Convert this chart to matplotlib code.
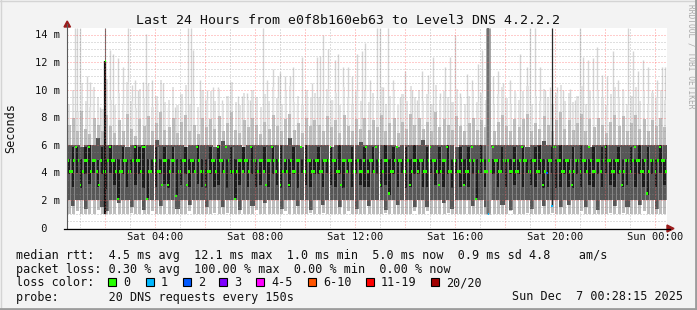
import numpy as np
import matplotlib.pyplot as plt
from matplotlib import transforms
from matplotlib.patches import Rectangle, Polygon
from matplotlib.lines import Line2D

# time axis: hours since Sat 00:00, window Sat 00:28:15 -> Sun 00:28:15
start_h = 0.4708
band_step_h = 1 / 6      # smoke columns, 10 min
median_step_h = 1 / 12   # median samples, 5 min

# median rtt (ms), 5 min samples
median_ms = [
    4.9, 4.1, 4.1, 4.9, 5.9, 4.9, 3.1, 4.1, 4.9, 4.9, 5.9, 4.1, 4.9, 4.9, 4.1, 3.1, 4.9, 4.1, 4.1, 4.9, 5.9, 4.9, 4.9, 4.1,
    2.1, 4.1, 4.1, 4.9, 4.9, 4.1, 4.1, 4.9, 5.9, 4.9, 4.9, 4.1, 5.9, 5.9, 2.1, 4.1, 4.1, 4.9, 4.9, 4.1, 4.1, 3.1, 4.9, 4.9,
    3.1, 4.1, 4.9, 4.9, 2.3, 4.1, 4.1, 4.9, 4.9, 3.1, 4.1, 4.9, 4.9, 4.1, 5.9, 4.9, 4.1, 4.1, 3.1, 4.1, 4.1, 4.9, 4.9, 4.1,
    5.9, 4.9, 4.9, 4.1, 5.9, 4.9, 4.1, 4.1, 2.1, 4.1, 4.9, 4.9, 4.1, 4.9, 4.9, 4.1, 5.9, 4.9, 4.9, 4.1, 4.9, 4.9, 4.1, 3.1,
    4.9, 4.9, 5.9, 4.9, 4.1, 4.9, 3.1, 4.1, 4.9, 4.1, 3.1, 4.9, 4.1, 4.1, 4.9, 4.9, 5.9, 4.1, 4.1, 4.9, 4.9, 4.1, 4.1, 4.9,
    4.9, 4.1, 4.1, 4.9, 4.9, 4.9, 5.9, 4.9, 4.9, 4.1, 4.1, 3.1, 4.9, 4.9, 4.1, 4.9, 4.9, 4.1, 4.1, 4.9, 4.1, 4.1, 4.9, 5.9,
    4.1, 4.9, 4.9, 4.1, 5.9, 4.9, 3.1, 4.1, 4.9, 4.9, 2.5, 4.1, 4.1, 4.9, 5.9, 4.9, 4.9, 4.1, 4.1, 4.9, 3.1, 4.1, 4.9, 4.9,
    4.1, 4.9, 4.9, 4.1, 4.1, 4.9, 5.9, 4.9, 4.9, 4.1, 3.1, 4.1, 4.9, 4.9, 5.9, 4.1, 4.1, 4.9, 4.9, 4.1, 4.1, 4.9, 3.1, 4.1,
    4.1, 4.9, 5.9, 4.9, 2.1, 4.1, 4.9, 4.9, 4.1, 4.1, 4.9, 4.1, 5.9, 4.9, 4.9, 4.1, 4.1, 4.9, 4.9, 4.9, 4.1, 4.1, 4.9, 4.1,
    4.1, 4.9, 5.9, 4.9, 4.9, 4.1, 4.1, 4.9, 4.9, 4.1, 4.1, 4.9, 3.1, 4.1, 4.0, 4.9, 4.9, 5.9, 5.9, 4.9, 4.9, 4.1, 4.1, 4.9,
    4.9, 4.1, 3.1, 4.1, 4.9, 4.9, 4.1, 4.9, 4.9, 4.1, 5.9, 4.9, 4.1, 4.1, 4.9, 4.9, 4.1, 4.9, 5.9, 4.9, 4.9, 4.1, 4.1, 4.9,
    4.9, 4.1, 3.1, 4.1, 4.9, 4.9, 4.1, 4.9, 5.9, 4.9, 4.9, 4.1, 4.1, 4.9, 2.5, 4.1, 4.9, 4.9, 4.1, 4.9, 5.9, 4.9, 4.9, 4.1,
]
# lost pings for a few median samples (index -> loss count)
median_loss = {230: 2}

# smoke percentiles (ms), 10 min columns
lo_ms = [
    1.0, 1.0, 1.2, 1.0, 1.0, 1.0, 1.0, 1.3, 1.0, 1.0, 1.0, 1.0,
    1.0, 1.0, 1.0, 1.1, 1.0, 1.0, 1.0, 1.0, 1.2, 1.0, 1.0, 1.0,
    1.0, 1.0, 1.0, 1.0, 1.0, 1.2, 1.0, 1.0, 1.0, 1.0, 1.0, 1.1,
    1.0, 1.0, 1.1, 1.0, 1.0, 1.0, 1.0, 1.0, 1.0, 1.3, 1.0, 1.0,
    1.0, 1.0, 1.0, 1.0, 1.2, 1.0, 1.0, 1.0, 1.0, 1.0, 1.1, 1.0,
    1.0, 1.1, 1.0, 1.0, 1.0, 1.0, 1.0, 1.2, 1.0, 1.0, 1.0, 1.0,
    1.0, 1.0, 1.0, 1.0, 1.1, 1.0, 1.0, 1.0, 1.0, 1.0, 1.0, 1.2,
    1.0, 1.0, 1.2, 1.0, 1.0, 1.0, 1.0, 1.1, 1.0, 1.0, 1.0, 1.0,
    1.0, 1.0, 1.0, 1.0, 1.0, 1.1, 1.0, 1.0, 1.0, 1.0, 1.2, 1.0,
    1.0, 1.0, 1.1, 1.0, 1.0, 1.0, 1.0, 1.0, 1.1, 1.0, 1.0, 1.0,
    1.0, 1.0, 1.0, 1.2, 1.0, 1.0, 1.0, 1.0, 1.0, 1.0, 1.1, 1.0,
    1.0, 1.1, 1.0, 1.0, 1.0, 1.0, 1.2, 1.0, 1.0, 1.0, 1.0, 1.0,
]
p10_ms = [
    2.0, 1.6, 2.0, 2.0, 1.4, 2.0, 2.0, 2.0, 1.5, 1.2, 2.0, 2.0,
    1.8, 2.0, 2.0, 1.5, 2.0, 2.0, 1.3, 2.0, 2.0, 2.0, 1.6, 2.0,
    2.0, 2.0, 1.4, 2.0, 2.0, 1.7, 2.0, 2.0, 2.0, 1.5, 2.0, 2.0,
    2.0, 1.5, 2.0, 2.0, 2.0, 1.3, 2.0, 2.0, 1.6, 2.0, 2.0, 1.8,
    2.0, 2.0, 2.0, 1.4, 2.0, 2.0, 2.0, 1.6, 2.0, 2.0, 1.3, 2.0,
    2.0, 1.7, 2.0, 2.0, 2.0, 1.5, 2.0, 2.0, 2.0, 1.4, 2.0, 2.0,
    1.6, 2.0, 2.0, 2.0, 1.3, 2.0, 2.0, 1.7, 2.0, 2.0, 2.0, 1.5,
    2.0, 2.0, 1.5, 2.0, 2.0, 2.0, 1.8, 2.0, 1.4, 2.0, 2.0, 2.0,
    2.0, 1.6, 2.0, 2.0, 1.5, 2.0, 2.0, 2.0, 1.7, 2.0, 1.3, 2.0,
    2.0, 2.0, 2.0, 1.4, 2.0, 2.0, 1.6, 2.0, 2.0, 2.0, 1.5, 2.0,
    1.7, 2.0, 2.0, 2.0, 1.5, 2.0, 2.0, 1.3, 2.0, 2.0, 2.0, 1.6,
    2.0, 2.0, 1.5, 2.0, 2.0, 1.7, 2.0, 2.0, 2.0, 1.4, 2.0, 2.0,
]
q25_ms = [
    3.9, 3.0, 4.0, 2.9, 3.9, 3.2, 4.0, 3.0, 3.9, 2.8, 4.0, 3.1,
    2.2, 3.9, 3.0, 4.0, 3.1, 3.9, 2.9, 2.2, 4.0, 3.0, 3.9, 3.2,
    2.9, 4.0, 2.4, 3.1, 3.9, 3.0, 4.0, 3.2, 3.0, 2.9, 3.9, 3.0,
    3.1, 4.0, 2.9, 3.9, 2.2, 3.1, 4.0, 3.0, 3.9, 3.0, 3.1, 4.0,
    3.0, 3.9, 3.1, 2.9, 4.0, 3.0, 3.9, 2.9, 4.0, 3.1, 3.0, 3.9,
    3.9, 3.0, 4.0, 3.1, 3.0, 3.9, 2.9, 4.0, 3.0, 3.9, 3.1, 3.0,
    3.0, 4.0, 3.9, 3.0, 3.1, 2.4, 3.9, 3.0, 4.0, 2.9, 3.0, 3.9,
    3.9, 3.0, 3.0, 4.0, 3.1, 3.9, 3.0, 3.9, 2.9, 4.0, 3.0, 3.1,
    3.0, 3.9, 2.2, 4.0, 3.0, 3.1, 3.9, 3.0, 4.0, 3.0, 3.9, 3.1,
    3.9, 3.0, 4.0, 3.1, 3.0, 3.9, 2.9, 3.0, 4.0, 2.9, 3.0, 3.9,
    3.0, 2.9, 3.9, 3.0, 4.0, 3.1, 3.0, 3.9, 3.0, 4.0, 3.1, 3.0,
    3.9, 3.0, 3.1, 4.0, 3.0, 3.9, 3.0, 2.4, 3.9, 3.0, 4.0, 3.1,
]
q75_ms = [
    5.0, 5.9, 5.9, 5.0, 5.9, 6.0, 5.0, 4.9, 5.9, 5.0, 6.0, 5.0,
    5.0, 5.9, 5.0, 5.0, 6.0, 5.9, 6.0, 5.0, 5.0, 5.9, 5.0, 5.9,
    5.0, 5.9, 5.0, 5.0, 5.9, 5.0, 5.0, 6.0, 5.0, 5.0, 5.9, 5.0,
    6.0, 5.0, 5.0, 5.9, 5.0, 5.0, 5.9, 5.0, 5.9, 5.0, 5.0, 5.9,
    5.0, 5.9, 5.0, 6.0, 5.0, 5.0, 5.9, 5.0, 5.0, 6.0, 5.0, 5.0,
    5.9, 5.0, 5.0, 5.9, 5.0, 6.0, 5.0, 5.0, 5.9, 5.0, 5.0, 5.9,
    5.0, 5.9, 5.0, 5.0, 6.0, 5.0, 5.9, 5.0, 5.0, 5.9, 5.0, 6.0,
    5.0, 5.0, 5.9, 5.0, 5.0, 5.9, 5.0, 6.0, 5.0, 5.0, 5.9, 5.0,
    5.9, 5.0, 5.0, 6.0, 5.0, 5.9, 5.0, 5.0, 5.9, 5.0, 5.0, 5.9,
    5.0, 5.9, 5.0, 5.0, 5.9, 6.0, 5.0, 5.0, 5.9, 5.0, 6.0, 5.0,
    5.0, 5.9, 5.0, 6.0, 5.0, 5.0, 5.9, 5.0, 5.9, 6.0, 5.0, 5.0,
    5.9, 5.0, 5.0, 5.9, 5.0, 6.0, 5.0, 5.9, 5.0, 5.0, 6.0, 5.0,
]
p90_ms = [
    6.0, 6.0, 6.0, 5.9, 6.0, 6.0, 6.0, 6.5, 6.0, 6.0, 6.0, 6.0,
    6.0, 6.0, 5.9, 6.0, 6.0, 6.0, 6.0, 6.0, 6.0, 6.4, 6.0, 6.0,
    6.0, 6.0, 6.0, 6.0, 5.9, 6.0, 6.0, 6.0, 6.0, 6.0, 6.0, 5.9,
    6.0, 6.3, 6.0, 6.0, 6.0, 6.0, 5.9, 6.0, 6.0, 6.0, 6.0, 6.0,
    6.0, 6.0, 6.0, 6.0, 6.0, 6.5, 6.0, 6.0, 5.9, 6.0, 6.0, 6.0,
    6.0, 6.0, 6.0, 5.9, 6.0, 6.0, 6.0, 6.0, 6.0, 6.0, 6.2, 6.0,
    6.0, 6.0, 6.0, 6.0, 6.0, 6.0, 6.0, 5.9, 6.0, 6.0, 6.0, 6.0,
    6.0, 6.4, 6.0, 6.0, 6.0, 6.0, 6.0, 6.0, 6.0, 5.9, 6.0, 6.0,
    6.0, 6.0, 6.0, 6.0, 6.0, 6.0, 6.0, 6.0, 6.0, 6.0, 6.0, 6.0,
    6.0, 6.0, 5.9, 6.0, 6.0, 6.0, 6.3, 6.0, 6.0, 6.0, 6.0, 6.0,
    6.0, 6.0, 6.0, 6.0, 6.0, 5.9, 6.0, 6.0, 6.0, 6.0, 6.0, 6.0,
    6.0, 6.0, 6.0, 6.0, 6.0, 6.0, 6.0, 6.0, 6.0, 6.0, 6.0, 6.0,
]
p95_ms = [
    7.5, 8.0, 7.0, 8.5, 7.2, 6.8, 8.0, 7.5, 7.0, 8.2, 7.4, 6.9,
    7.8, 7.0, 8.3, 7.2, 6.7, 7.9, 7.4, 8.1, 7.0, 7.6, 8.4, 7.1,
    7.3, 8.0, 6.9, 7.7, 8.2, 7.0, 7.5, 6.8, 8.0, 7.3, 7.9, 7.2,
    8.1, 7.0, 7.6, 8.4, 7.1, 6.9, 7.8, 7.3, 8.0, 7.5, 6.8, 7.7,
    7.2, 8.2, 7.4, 7.0, 7.9, 8.3, 7.1, 7.6, 6.9, 8.0, 7.4, 7.8,
    7.5, 7.0, 8.1, 7.3, 7.8, 6.9, 8.2, 7.4, 7.0, 7.9, 7.2, 8.0,
    7.1, 7.8, 7.3, 8.2, 7.0, 7.6, 8.0, 6.9, 7.7, 7.2, 8.3, 7.5,
    8.0, 7.2, 7.7, 7.0, 8.4, 7.3, 7.9, 7.5, 7.1, 8.1, 7.4, 7.0,
    7.6, 8.0, 7.1, 7.8, 7.3, 8.5, 7.0, 7.7, 8.2, 7.4, 7.0, 7.9,
    7.3, 7.9, 8.3, 7.0, 7.6, 7.2, 8.1, 7.5, 7.0, 7.8, 8.4, 7.2,
    7.8, 7.1, 7.6, 8.3, 7.0, 7.9, 7.3, 8.0, 7.5, 6.9, 7.7, 8.2,
    7.4, 8.1, 7.0, 7.6, 8.2, 7.2, 7.9, 7.0, 7.8, 7.4, 8.0, 7.3,
]
hi_ms = [
    9.0, 10.0, 8.5, 10.5, 9.2, 8.8, 10.2, 9.5, 8.6, 10.8, 9.3, 8.9,
    9.8, 9.0, 10.6, 9.2, 8.7, 10.1, 9.4, 10.3, 8.8, 9.6, 10.7, 9.1,
    9.3, 10.2, 8.9, 9.7, 10.4, 9.0, 9.5, 8.8, 10.0, 9.3, 9.9, 9.2,
    10.1, 9.0, 9.6, 10.6, 9.1, 8.9, 9.8, 9.3, 10.0, 9.5, 8.8, 9.7,
    9.2, 10.2, 9.4, 9.0, 9.9, 10.3, 9.1, 9.6, 8.9, 10.0, 9.4, 9.8,
    9.5, 9.0, 10.1, 9.3, 9.8, 8.9, 10.2, 9.4, 9.0, 9.9, 9.2, 10.0,
    9.1, 9.8, 9.3, 10.2, 9.0, 9.6, 10.0, 8.9, 9.7, 9.2, 10.3, 9.5,
    10.0, 9.2, 9.7, 9.0, 10.4, 9.3, 9.9, 9.5, 9.1, 10.1, 9.4, 9.0,
    9.6, 10.0, 9.1, 9.8, 9.3, 10.5, 9.0, 9.7, 10.2, 9.4, 9.0, 9.9,
    9.3, 9.9, 10.3, 9.0, 9.6, 9.2, 10.1, 9.5, 9.0, 9.8, 10.4, 9.2,
    9.8, 9.1, 9.6, 10.3, 9.0, 9.9, 9.3, 10.0, 9.5, 8.9, 9.7, 10.2,
    9.4, 10.1, 9.0, 9.6, 10.2, 9.2, 9.9, 9.0, 9.8, 9.4, 10.0, 9.3,
]

# single slow pings sticking out of the smoke (hour, ms)
spike_h = [
    0.52, 0.79, 0.88, 0.99, 1.26, 1.39, 1.52, 1.79, 2.19, 2.32, 2.52, 2.72, 2.92, 3.06, 3.19, 3.32,
    3.52, 3.62, 3.72, 3.86, 4.06, 4.32, 4.52, 4.79, 5.06, 5.32, 5.42, 5.52, 5.79, 6.06, 6.32, 6.52,
    6.66, 6.99, 7.32, 7.46, 7.66, 7.79, 8.32, 8.46, 8.72, 8.92, 8.99, 9.19, 9.39, 9.52, 9.66, 9.86,
    10.06, 10.26, 10.46, 10.59, 10.72, 10.92, 11.06, 11.19, 11.32, 11.52, 11.72, 11.86, 12.06, 12.26,
    12.39, 12.59, 12.88, 12.99, 13.12, 13.32, 13.52, 13.79, 13.99, 14.26, 14.46, 14.66, 14.92, 15.12,
    15.39, 15.59, 15.79, 15.99, 16.19, 16.46, 16.66, 16.92, 17.06, 17.52, 17.72, 17.92, 18.19, 18.39,
    18.59, 18.86, 18.99, 19.19, 19.39, 19.59, 19.79, 20.06, 20.32, 20.59, 20.79, 20.99, 21.12, 21.32,
    21.52, 21.66, 21.86, 22.06, 22.32, 22.52, 22.72, 22.92, 23.12, 23.32, 23.52, 23.72, 23.86, 24.06,
    24.26, 24.39,
]
spike_ms = [
    9.0, 14.5, 14.5, 14.5, 11.0, 10.6, 10.1, 8.8, 12.9, 12.6, 12.3, 11.7, 14.5, 10.4, 10.7, 10.0,
    10.6, 14.1, 10.5, 10.7, 9.3, 10.5, 8.8, 8.8, 9.3, 14.5, 14.5, 12.9, 10.7, 10.0, 10.2, 10.2,
    9.3, 9.3, 9.6, 9.6, 9.8, 9.3, 14.5, 10.7, 11.5, 11.0, 11.3, 11.0, 11.0, 11.7, 9.0, 12.4,
    9.5, 10.5, 12.4, 12.5, 14.0, 13.0, 9.3, 12.2, 12.6, 11.7, 11.7, 11.0, 12.6, 12.8,
    13.4, 10.7, 14.5, 14.5, 10.2, 14.5, 10.7, 9.5, 11.4, 10.0, 9.3, 11.4, 11.1, 12.4,
    9.8, 11.7, 12.4, 14.0, 9.8, 11.2, 10.7, 11.9, 12.9, 11.0, 11.4, 10.5, 10.7, 9.8,
    12.6, 11.7, 14.5, 14.5, 11.7, 10.0, 10.2, 10.2, 10.0, 10.1, 9.3, 14.5, 12.4, 12.2,
    12.3, 13.1, 11.1, 11.0, 12.8, 10.7, 10.0, 14.5, 12.8, 11.4, 12.2, 11.7, 10.0, 10.7,
    11.7, 11.7,
]

# odd single columns: 12.1 ms max median, two columns with packet loss
streak_h = [2.01, 17.33, 19.87]
streak_lo = [1.0, 1.0, 1.6]
streak_top = [14.5, 14.5, 14.5]
streak_core_top = [12.1, 14.5, 14.5]
streak_med = [12.1, 1.0, 1.6]
streak_loss = [0, 1, 1]

y_ticks = [0, 2, 4, 6, 8, 10, 12, 14]
y_tick_labels = [' 0', ' 2 m', ' 4 m', ' 6 m', ' 8 m', '10 m', '12 m', '14 m']
x_ticks = [4, 8, 12, 16, 20, 24]
x_tick_labels = ['Sat 04:00', 'Sat 08:00', 'Sat 12:00', 'Sat 16:00', 'Sat 20:00', 'Sun 00:00']

loss_labels = ['0', '1', '2', '3', '4-5', '6-10', '11-19', '20/20']
loss_colors = ['#26ff00', '#00b8ff', '#0059ff', '#7e00ff', '#ff00ff', '#ff5500', '#ff0000', '#a10000']
loss_box_px = [108, 146, 183, 219, 256, 308, 366, 431]

title = 'Last 24 Hours from e0f8b160eb63 to Level3 DNS 4.2.2.2'
legend_lines = [
    'median rtt:  4.5 ms avg  12.1 ms max  1.0 ms min  5.0 ms now  0.9 ms sd 4.8    am/s',
    'packet loss: 0.30 % avg  100.00 % max  0.00 % min  0.00 % now',
    'loss color:',
    'probe:       20 DNS requests every 150s',
]
stamp = 'Sun Dec  7 00:28:15 2025'

W, H = 697, 310
MONO = 'DejaVu Sans Mono'
fig = plt.figure(figsize=(W / 100, H / 100), dpi=100, facecolor='#f3f3f3')


def fx(px):
    return px / W


def fy(py):
    return 1 - py / H


ax = fig.add_axes([fx(67), fy(228), 600 / W, 200 / H])
ax.set_facecolor('white')
ax.set_xlim(start_h, start_h + 24)
ax.set_ylim(0, 14.5)
for s in ax.spines.values():
    s.set_visible(False)
ax.set_xticks([])
ax.set_yticks([])

# smoke
t_band = start_h + np.arange(len(hi_ms)) * band_step_h


def smoke(bottom, top, color, frac, z, shift=0.0):
    bottom = np.asarray(bottom)
    top = np.asarray(top)
    ax.bar(t_band + band_step_h * ((1 - frac) / 2 + shift), top - bottom, bottom=bottom,
           width=band_step_h * frac, align='edge', color=color, linewidth=0, zorder=z)


ax.vlines(spike_h, 6.0, spike_ms, color='#d4d4d4', linewidth=1.0, zorder=1)
smoke(lo_ms, hi_ms, '#e2e2e2', 0.55, 1.5)
smoke(lo_ms, p95_ms, '#bdbdbd', 0.75, 2)
smoke(p10_ms, p90_ms, '#575757', 1.0, 2.5)
smoke(p10_ms, q75_ms, '#858585', 0.22, 2.6, shift=0.38)
smoke(q25_ms, q75_ms, '#1c1c1c', 0.6, 3, shift=-0.1)

# odd columns
for t, lo_v, top, core, med, loss in zip(streak_h, streak_lo, streak_top, streak_core_top,
                                         streak_med, streak_loss):
    if core < top:
        ax.vlines(t, lo_v, top, color='#6a6a6a', linewidth=0.8, zorder=3.5)
        ax.vlines(t, lo_v, core, color='#111111', linewidth=1.6, zorder=3.6)
    elif loss == 1 and lo_v < 1.5:
        ax.vlines(t, lo_v, top, color='#9a9a9a', linewidth=3.4, zorder=3.5)
        ax.vlines(t, lo_v, top, color='#6e6e6e', linewidth=1.4, zorder=3.6)
    else:
        ax.vlines(t, lo_v, top, color='#2a2a2a', linewidth=0.9, zorder=3.6)
    ax.bar(t, 0.16, bottom=med - 0.08, width=0.07, color=loss_colors[loss],
           linewidth=0, zorder=6)

# grid on top of smoke
minor = (0.55, 0.55, 0.55, 0.55)
major = (1.0, 0.35, 0.35, 0.6)
for v in np.arange(0.5, 14.5, 0.5):
    ax.axhline(v, color=major if v % 2 == 0 else minor, linewidth=0.72,
               linestyle=(0, (1, 2)), zorder=4)
for hr in range(1, 25):
    ax.axvline(hr, color=major if hr % 2 == 0 else minor, linewidth=0.72,
               linestyle=(0, (1, 2)), zorder=4)

# median dots
t_med = start_h + (np.arange(len(median_ms)) + 0.05) * median_step_h
med = np.array(median_ms)
dot_colors = [loss_colors[median_loss.get(i, 0)] for i in range(len(median_ms))]
ax.bar(t_med, 0.16, bottom=med - 0.08, width=median_step_h * 0.9, align='edge',
       color=dot_colors, linewidth=0, zorder=6)

# axes lines and arrows
fig.add_artist(Line2D([fx(67), fx(67)], [fy(228), fy(24)], color='#5a5a5a', lw=0.8))
fig.add_artist(Line2D([fx(64), fx(670)], [fy(228.5), fy(228.5)], color='black', lw=0.9))
fig.add_artist(Polygon([(fx(64), fy(27)), (fx(70.5), fy(27)), (fx(67.2), fy(21))],
                       closed=True, color='#9b1c1c', transform=fig.transFigure))
fig.add_artist(Polygon([(fx(667), fy(225)), (fx(667), fy(232)), (fx(674), fy(228.5))],
                       closed=True, color='#9b1c1c', transform=fig.transFigure))

# ticks
ytr = transforms.blended_transform_factory(fig.transFigure, ax.transData)
for v, lab in zip(y_ticks, y_tick_labels):
    ax.text(fx(35), v, lab, transform=ytr + transforms.ScaledTranslation(0, -3.6 / 100, fig.dpi_scale_trans),
            family=MONO, fontsize=7.5, ha='left', va='baseline', color='#111111')
xtr = transforms.blended_transform_factory(ax.transData, fig.transFigure)
for t, lab in zip(x_ticks, x_tick_labels):
    ax.text(t, fy(240.5), lab, transform=xtr, family=MONO, fontsize=7.5,
            ha='center', va='baseline', color='#111111')

fig.text(fx(11), fy(128), 'Seconds', rotation=90, family=MONO, fontsize=8.5,
         ha='center', va='center', color='#111111')
fig.text(fx(347.5), fy(24), title, family=MONO, fontsize=9.5, ha='center',
         va='baseline', color='#111111')
fig.text(fx(690.5), fy(4), 'RRDTOOL / TOBI OETIKER', rotation=270, family=MONO,
         fontsize=5.7, ha='center', va='top', color='#aaaaaa')

# legend block
for k, line in enumerate(legend_lines):
    fig.text(fx(16), fy(258.5 + 14 * k), line, family=MONO, fontsize=8.5,
             ha='left', va='baseline', color='#111111')
for xp, lab, col in zip(loss_box_px, loss_labels, loss_colors):
    fig.add_artist(Rectangle((fx(xp), fy(286)), 8 / W, 8 / H, facecolor=col,
                             edgecolor='black', linewidth=0.8, transform=fig.transFigure))
    fig.text(fx(xp + 15), fy(286.5), lab, family=MONO, fontsize=8.5,
             ha='left', va='baseline', color='#111111')
fig.text(fx(683), fy(300.5), stamp, family=MONO, fontsize=8.5, ha='right',
         va='baseline', color='#111111')

# frame
fig.add_artist(Line2D([0, 1], [fy(0.5), fy(0.5)], color='#d4d4d4', lw=1.0))
fig.add_artist(Line2D([fx(0.5), fx(0.5)], [0, 1], color='#d4d4d4', lw=1.0))
fig.add_artist(Line2D([0, 1], [fy(308.5), fy(308.5)], color='#9c9c9c', lw=2.0))
fig.add_artist(Line2D([fx(695.5), fx(695.5)], [0, 1], color='#9c9c9c', lw=2.0))

fig.savefig('out.png', dpi=100, facecolor=fig.get_facecolor())
